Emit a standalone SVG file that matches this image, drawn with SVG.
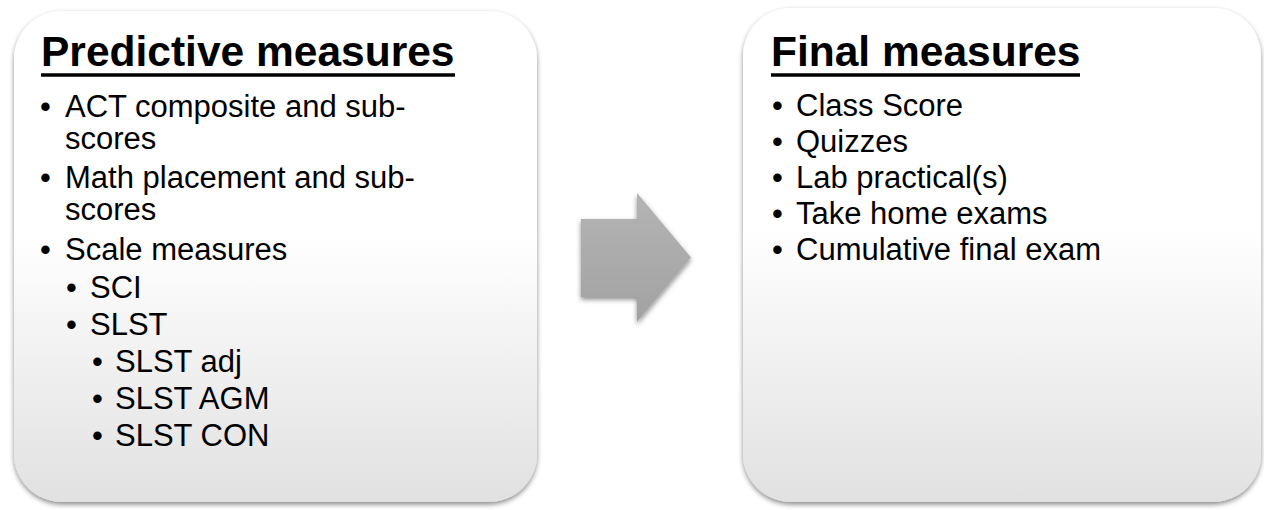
<svg xmlns="http://www.w3.org/2000/svg" width="1264" height="510" viewBox="0 0 1264 510">
  <style>
    .title { font-family: "Liberation Sans", Arial, sans-serif; font-weight: bold; font-size: 42.5px; fill: #000; }
    .item { font-family: "Liberation Sans", Arial, sans-serif; font-size: 31px; fill: #000; }
    .box { fill: url(#boxGrad); filter: url(#shadow); }
    .uline { stroke: #000; stroke-width: 3.5; }
  </style>
  <defs>
    <linearGradient id="boxGrad" x1="0" y1="0" x2="0" y2="1">
      <stop offset="0" stop-color="#ffffff"/>
      <stop offset="0.45" stop-color="#ffffff"/>
      <stop offset="1" stop-color="#e1e1e1"/>
    </linearGradient>
    <linearGradient id="arrowGrad" x1="0" y1="0" x2="0" y2="1">
      <stop offset="0" stop-color="#b4b4b4"/>
      <stop offset="1" stop-color="#a2a2a2"/>
    </linearGradient>
    <filter id="shadow" x="-10%" y="-10%" width="120%" height="120%">
      <feDropShadow dx="0" dy="2.5" stdDeviation="2.5" flood-color="#000" flood-opacity="0.45"/>
    </filter>
  </defs>

  <g id="predictive">
    <rect class="box" x="14" y="11" width="523" height="491" rx="48" ry="48"/>
    <text class="title" x="41" y="66">Predictive measures</text>
    <line class="uline" x1="41" y1="75" x2="455" y2="75"/>
    <g class="item">
      <text x="40" y="117">•</text>
      <text x="65" y="117">ACT composite and sub-<tspan x="65" dy="32">scores</tspan></text>
      <text x="40" y="188">•</text>
      <text x="65" y="188">Math placement and sub-<tspan x="65" dy="32">scores</tspan></text>
      <text x="40" y="260">•</text><text x="65" y="260">Scale measures</text>
      <text x="66" y="298">•</text><text x="90" y="298">SCI</text>
      <text x="66" y="335">•</text><text x="90" y="335">SLST</text>
      <text x="92" y="372">•</text><text x="115" y="372">SLST adj</text>
      <text x="92" y="409">•</text><text x="115" y="409">SLST AGM</text>
      <text x="92" y="446">•</text><text x="115" y="446">SLST CON</text>
    </g>
  </g>

  <g id="connectors">
    <polygon points="581,219 637,219 637,193 691,257.5 637,322 637,297 581,297" fill="url(#arrowGrad)" filter="url(#shadow)"/>
  </g>

  <g id="final">
    <rect class="box" x="743" y="8" width="518" height="494" rx="48" ry="48"/>
    <text class="title" x="771" y="66">Final measures</text>
    <line class="uline" x1="771" y1="75" x2="1080" y2="75"/>
    <g class="item">
      <text x="772" y="116">•</text><text x="796" y="116">Class Score</text>
      <text x="772" y="152">•</text><text x="796" y="152">Quizzes</text>
      <text x="772" y="188">•</text><text x="796" y="188">Lab practical(s)</text>
      <text x="772" y="224">•</text><text x="796" y="224">Take home exams</text>
      <text x="772" y="260">•</text><text x="796" y="260">Cumulative final exam</text>
    </g>
  </g>
</svg>
